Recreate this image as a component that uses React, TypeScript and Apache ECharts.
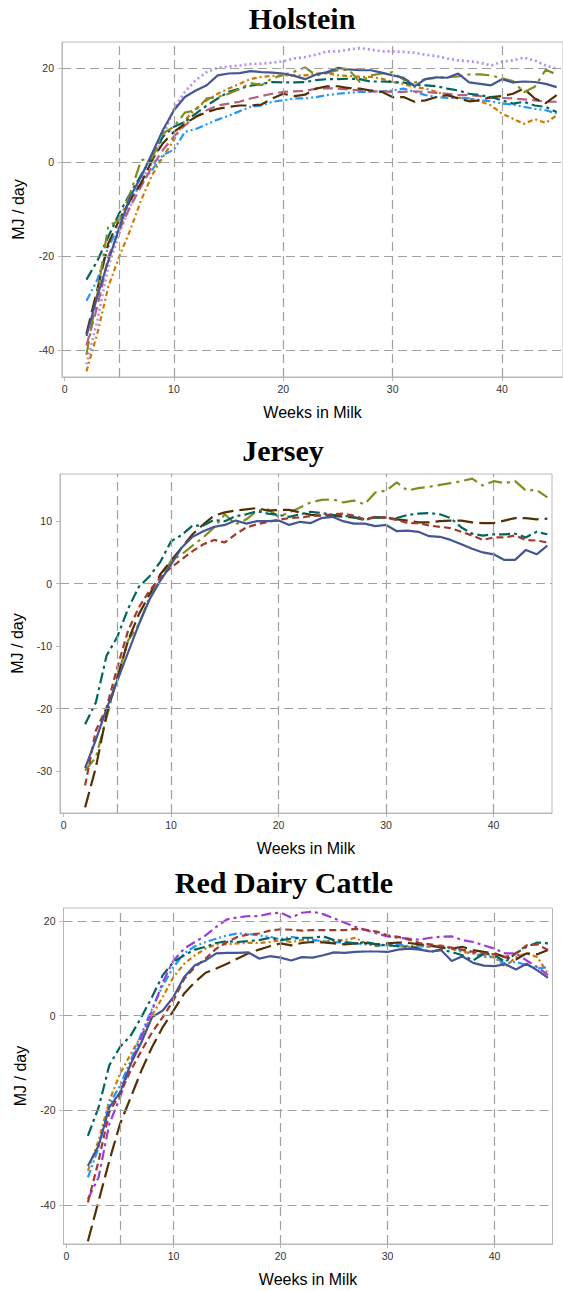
import React, { useEffect, useRef } from "react";
import * as echarts from "echarts";

// ---------- data ----------
const weeks = [2,3,4,5,6,7,8,9,10,11,12,13,14,15,16,17,18,19,20,21,22,23,24,25,26,27,28,29,30,31,32,33,34,35,36,37,38,39,40,41,42,43,44,45];

const xTickValues = [0, 10, 20, 30, 40];
const xRefLines = [5, 10, 20, 30, 40];

const panelTitles = ["Holstein", "Jersey", "Red Dairy Cattle"];
const xAxisTitle = "Weeks in Milk";
const yAxisTitle = "MJ / day";

// Holstein
const hBlue = [-37,-28.5,-21,-14,-7.4,-3.1,1.8,6.8,11.0,13.8,15.2,16.3,18.4,18.8,18.9,19.3,19.1,19.0,18.8,18.3,17.6,18.6,19.1,20.0,19.7,19.5,19.5,19.0,18.4,17.9,16.1,17.6,18.0,17.9,18.8,16.9,16.6,16.3,17.6,16.9,17.1,17.0,16.6,15.9];
const hLavender = [-43,-33.6,-22.2,-15.2,-9.5,-3.8,-0.3,5.4,11.3,14.9,17.4,19.1,20.0,20.3,20.5,20.8,20.9,21.1,21.4,22.0,22.3,22.8,23.5,23.5,23.9,24.2,23.9,23.5,23.5,23.4,23.2,22.8,22.5,22.0,21.6,21.4,21.1,20.5,21.3,21.6,22.2,21.6,20.5,19.8];
const hOlive = [-41,-28,-13.5,-12.5,-6.7,0.4,0.8,6.1,7.5,10.5,11.0,13.5,13.8,14.5,15.5,16.8,16.3,17.8,18.5,19.2,20.1,18.4,18.9,19.5,19.6,17.0,18.4,18.8,19.1,17.5,16.9,17.6,17.9,18.0,18.2,18.6,18.6,18.4,17.8,17.2,14.8,16.0,19.6,18.6];
const hOrange = [-44.5,-36.4,-26.5,-20.1,-14.5,-8.1,-2.8,1.1,4.7,8.9,11.3,13.1,14.5,15.6,16.6,17.6,18.1,18.3,18.4,18.4,18.4,18.8,18.9,18.4,18.3,18.1,18.1,17.7,17.0,16.6,15.9,15.6,14.9,14.2,13.6,13.5,12.9,12.0,10.3,9.2,8.1,9.1,8.3,9.9];
const hTeal = [-25,-21,-15.9,-10.9,-6.7,-2.8,1.1,5.4,7.5,8.5,10.3,12.0,13.5,14.9,15.6,16.2,16.6,17.0,16.9,16.9,17.0,17.4,17.6,17.6,17.7,17.6,17.1,17.1,17.0,16.9,16.4,16.3,16.1,15.6,15.2,14.5,14.2,13.8,13.1,12.4,12.8,12.0,11.7,10.6];
const hPink = [-39,-30.7,-20.1,-14.5,-9.5,-5.2,-1.0,2.6,5.4,7.8,9.6,11.0,12.0,12.4,12.8,13.5,14.0,14.5,14.9,15.0,15.1,15.6,15.7,15.6,15.4,15.2,15.0,15.0,14.9,14.9,15.0,14.9,14.7,14.5,14.2,14.2,14.0,13.6,13.6,13.5,13.3,13.1,12.8,12.8];
const hBrown = [-36.5,-27,-17.3,-12.3,-8.1,-4.5,0.4,4.0,6.4,8.1,9.6,10.6,11.3,11.7,12.0,12.0,12.2,13.5,14.5,14.0,14.3,15.6,16.1,16.1,15.7,15.6,15.2,14.9,13.8,13.8,12.8,13.1,13.8,14.2,13.5,12.9,13.1,13.8,14.0,14.5,15.6,13.5,12.5,14.2];
const hLightBlue = [-29.5,-25,-18,-13.7,-8.1,-4.5,-1.7,1.5,2.6,6.4,7.0,8.0,9.0,9.8,10.8,11.7,12.0,12.8,13.1,13.5,13.5,13.8,14.2,14.5,14.7,14.9,14.9,15.0,15.2,15.6,14.9,14.2,13.8,13.6,13.6,13.5,13.1,12.9,12.4,12.2,11.7,11.3,11.0,10.3];

// Jersey
const jBlue = [-29.5,-25,-20,-15.5,-11,-6.5,-2.5,0.5,3.1,5.8,7.5,8.4,9.1,9.4,10.1,9.6,10.0,10.0,10.1,9.4,9.9,9.7,10.5,10.7,10.0,9.6,9.6,9.2,9.4,8.4,8.5,8.3,7.6,7.5,7.0,6.3,5.6,5.0,4.7,3.8,3.8,5.4,4.7,6.1];
const jRed = [-32.3,-23.5,-19.8,-13.4,-7.5,-3.8,-1.1,1.0,2.6,3.9,5.2,6.3,7.0,6.6,7.9,9.0,9.5,9.9,10.2,10.5,10.6,10.8,10.9,11.1,11.2,10.9,10.3,10.7,10.5,10.2,9.7,9.7,9.3,9.1,8.9,8.3,7.7,7.0,7.4,7.4,7.7,7.0,6.9,6.6];
const jTeal = [-22.5,-19,-11.5,-8.5,-4,-0.5,1.2,3.5,6.8,7.8,9.3,9.3,10.2,10.0,10.8,11.1,11.6,11.2,11.0,10.7,11.1,11.5,11.3,11.0,10.9,10.6,10.2,10.6,10.5,10.5,11.0,11.2,11.3,11.1,10.5,9.0,8.0,7.7,7.9,7.9,8.0,7.4,8.3,7.9];
const jBrown = [-35.8,-29.4,-20.9,-15,-9.1,-4.9,-1.7,1.5,3.7,5.8,7.9,9.5,10.9,11.4,11.7,11.9,12.1,11.7,11.8,11.8,11.4,11.0,10.9,10.9,10.7,10.6,10.3,10.6,10.6,10.3,10.1,9.8,9.8,10.0,10.1,10.1,9.8,9.7,9.7,10.1,10.5,10.5,10.3,10.4];
const jOlive = [-29.9,-27.8,-21.4,-15,-9.1,-6.5,-2.2,0.5,3.7,4.7,6.1,7.4,9.0,11.1,9.5,10.3,11.7,11.9,10.7,11.4,12.2,13.0,13.4,13.5,13.0,13.3,12.7,14.6,14.9,16.2,14.9,15.3,15.5,15.8,16.1,16.4,16.8,15.7,16.4,16.1,16.4,14.9,15.0,13.8];

// Red Dairy Cattle
const rBlue = [-31.8,-27.5,-19.4,-16.2,-10.2,-5.6,-0.3,1.1,4.0,8.2,10.7,11.7,13.2,13.3,13.3,13.4,12.1,12.6,12.3,11.7,12.4,12.3,12.8,13.4,13.3,13.5,13.6,13.6,13.5,14.0,14.2,14.0,13.6,13.9,11.6,12.6,11.2,10.6,10.5,10.9,9.8,11.0,9.6,8.0];
const rRed = [-39.5,-30.7,-20.4,-16.5,-11.6,-7.4,-3.5,-0.3,3.3,7.8,10.3,12.1,14.2,15.6,16.7,17.2,17.4,18.0,18.3,18.2,18.0,18.1,18.1,18.1,18.1,18.4,18.2,17.8,17.0,16.7,16.1,15.4,15.1,14.7,14.4,14.0,13.5,13.2,13.0,12.4,13.2,14.9,15.1,13.9];
const rTeal = [-25.4,-19.4,-10.5,-6.6,-4.2,-0.3,4.0,8.6,11.4,12.8,14.0,14.6,15.4,15.8,15.6,15.8,16.0,16.5,16.0,16.3,16.5,16.5,16.8,16.0,15.6,15.3,15.6,15.1,14.9,14.7,14.6,14.2,13.5,14.0,13.5,12.8,11.7,13.2,12.8,11.4,13.2,14.6,15.5,15.3];
const rBrown = [-47.7,-39.2,-30.7,-22.9,-17.3,-11.6,-6.6,-2.4,1.1,4.7,7.1,9.1,10.0,11.0,12.1,13.2,14.0,14.7,15.3,14.9,15.4,15.6,15.5,15.3,15.1,15.3,15.4,15.1,15.3,15.5,15.4,15.1,14.9,14.4,14.2,14.6,13.9,13.5,13.2,12.4,11.9,13.2,13.0,13.9];
const rPurple = [-38.8,-34.2,-22.9,-17.3,-10.2,-4.5,1.1,7.1,11.7,14.2,15.6,17.0,18.8,20.4,20.8,21.1,21.1,21.6,21.8,20.8,21.8,22.0,21.5,20.6,19.7,18.8,18.1,17.4,16.8,16.5,16.3,16.1,16.5,16.7,16.8,16.0,15.6,14.9,14.2,13.2,13.2,11.7,10.3,8.6];
const rLightBlue = [-34.2,-27.9,-18.7,-14.8,-9.5,-3.8,1.5,6.4,10.3,13.2,14.7,15.6,16.3,17.0,17.4,17.3,17.0,16.7,16.2,16.7,16.3,16.0,15.8,15.6,15.4,15.3,15.1,14.9,14.9,15.1,14.7,14.9,14.7,14.6,14.2,13.9,13.2,12.8,12.4,11.0,11.4,10.7,10.0,10.3];
const rOrange = [-32.8,-26.4,-18.0,-12.3,-8.1,-4.2,0.1,4.0,8.2,11.0,12.8,14.2,15.1,15.1,15.3,15.4,15.4,15.6,16.0,15.6,16.0,16.1,15.6,16.0,16.0,16.5,15.3,14.7,15.1,14.7,14.6,14.6,14.6,14.9,14.2,13.5,13.2,12.4,12.4,10.3,12.4,13.2,12.4,8.9];

const holsteinYTicks = [-40, -20, 0, 20];
const jerseyYTicks = [-30, -20, -10, 0, 10];
const redYTicks = [-40, -20, 0, 20];
const holsteinYRefs = [-40, -20, 0, 20];
const jerseyYRefs = [-20, 0];
const redYRefs = [-40, -20, 0, 20];

// ---------- styles ----------
const STY: Record<string, { color: string; type: any; width?: number }> = {
  blue: { color: "#445694", type: "solid" },
  red: { color: "#A23A2E", type: [7, 4] },
  teal: { color: "#01665E", type: [11, 4, 3, 4] },
  brown: { color: "#543005", type: [16, 6] },
  purple: { color: "#9D3CDB", type: [10, 4, 3, 4] },
  olive: { color: "#7F8E1F", type: [14, 5, 3, 5] },
  lightblue: { color: "#2597FA", type: [8, 3, 2, 3, 2, 3] },
  pink: { color: "#B26084", type: [10, 5] },
  orange: { color: "#D17800", type: [5, 3, 2, 3] },
  lavender: { color: "#B38EF3", type: [2, 3], width: 2.6 },
};

const panels = [
  {
    title: panelTitles[0], titleX: 302, titleY: 18,
    grid: { left: 62, top: 42, width: 504, height: 335 },
    xMin: -0.236, xMax: 45.58, yMin: -45.7, yMax: 25.5,
    yTicks: holsteinYTicks, yRefs: holsteinYRefs, yNameGap: 36,
    lines: [
      ["lavender", hLavender], ["orange", hOrange], ["lightblue", hLightBlue], ["pink", hPink],
      ["brown", hBrown], ["teal", hTeal], ["olive", hOlive], ["blue", hBlue],
    ],
  },
  {
    title: panelTitles[1], titleX: 283, titleY: 450,
    grid: { left: 60, top: 474, width: 492, height: 339 },
    xMin: -0.335, xMax: 45.43, yMin: -36.7, yMax: 17.55,
    yTicks: jerseyYTicks, yRefs: jerseyYRefs, yNameGap: 35,
    lines: [
      ["olive", jOlive], ["brown", jBrown], ["teal", jTeal], ["red", jRed], ["blue", jBlue],
    ],
  },
  {
    title: panelTitles[2], titleX: 284, titleY: 882,
    grid: { left: 63.5, top: 908, width: 489, height: 336 },
    xMin: -0.28, xMax: 45.42, yMin: -48.3, yMax: 22.8,
    yTicks: redYTicks, yRefs: redYRefs, yNameGap: 35,
    lines: [
      ["orange", rOrange], ["lightblue", rLightBlue], ["purple", rPurple], ["brown", rBrown],
      ["teal", rTeal], ["red", rRed], ["blue", rBlue],
    ],
  },
];

const FRAME = "#b9b9b9";
const REF = "#a0a0a0";
const SANS = "'Liberation Sans', Arial, sans-serif";

function buildOption() {
  const grids: any[] = [];
  const xAxes: any[] = [];
  const yAxes: any[] = [];
  const series: any[] = [];
  const graphics: any[] = [];

  panels.forEach((p, i) => {
    grids.push({ ...p.grid, show: true, borderColor: FRAME, borderWidth: 1, containLabel: false });
    xAxes.push({
      type: "value", gridIndex: i, min: p.xMin, max: p.xMax,
      name: xAxisTitle, nameLocation: "middle", nameGap: 27,
      nameTextStyle: { fontFamily: SANS, fontSize: 16, color: "#000" },
      axisLine: { show: true, onZero: false, lineStyle: { color: FRAME } },
      axisTick: { show: true, length: 4, inside: false, customValues: xTickValues, lineStyle: { color: FRAME } },
      axisLabel: { show: true, customValues: xTickValues, margin: 6, fontFamily: SANS, fontSize: 10.5, color: "#333" },
      splitLine: { show: false },
    });
    yAxes.push({
      type: "value", gridIndex: i, min: p.yMin, max: p.yMax,
      name: yAxisTitle, nameLocation: "middle", nameGap: p.yNameGap, nameRotate: 90,
      nameTextStyle: { fontFamily: SANS, fontSize: 16, color: "#000" },
      axisLine: { show: true, onZero: false, lineStyle: { color: FRAME } },
      axisTick: { show: true, length: 4, inside: false, customValues: p.yTicks, lineStyle: { color: FRAME } },
      axisLabel: { show: true, customValues: p.yTicks, margin: 8, fontFamily: SANS, fontSize: 10.5, color: "#333" },
      splitLine: { show: false },
    });
    // reference lines
    series.push({
      type: "line", xAxisIndex: i, yAxisIndex: i, data: [], silent: true, z: 1,
      markLine: {
        silent: true, symbol: "none", animation: false,
        label: { show: false },
        lineStyle: { type: [9, 5], color: REF, width: 1.2 },
        data: [
          ...xRefLines.map((v) => ({ xAxis: v })),
          ...p.yRefs.map((v) => ({ yAxis: v })),
        ],
      },
    });
    p.lines.forEach(([key, vals]: any) => {
      const s = STY[key];
      series.push({
        type: "line", xAxisIndex: i, yAxisIndex: i, z: 3,
        showSymbol: false, symbol: "none", smooth: false,
        data: weeks.map((w, k) => [w, vals[k]]),
        lineStyle: { color: s.color, type: s.type, width: s.width ?? 2.2 },
        itemStyle: { color: s.color },
      });
    });
    graphics.push({
      type: "text", x: p.titleX, y: p.titleY,
      style: {
        text: p.title, align: "center", verticalAlign: "middle",
        fontFamily: "'Liberation Serif', 'Times New Roman', serif", fontWeight: "bold", fontSize: 30, fill: "#000",
      },
    });
  });

  return {
    animation: false,
    backgroundColor: "#fff",
    grid: grids,
    xAxis: xAxes,
    yAxis: yAxes,
    series,
    graphic: graphics,
  };
}

export default function App() {
  const ref = useRef<HTMLDivElement>(null);
  useEffect(() => {
    if (!ref.current) return;
    const chart = echarts.init(ref.current, undefined, { renderer: "svg" });
    chart.setOption(buildOption());
    return () => chart.dispose();
  }, []);
  return (
    <div
      ref={ref}
      style={{ position: "absolute", left: 0, top: 0, width: 563, height: 1291, background: "#fff" }}
    />
  );
}
